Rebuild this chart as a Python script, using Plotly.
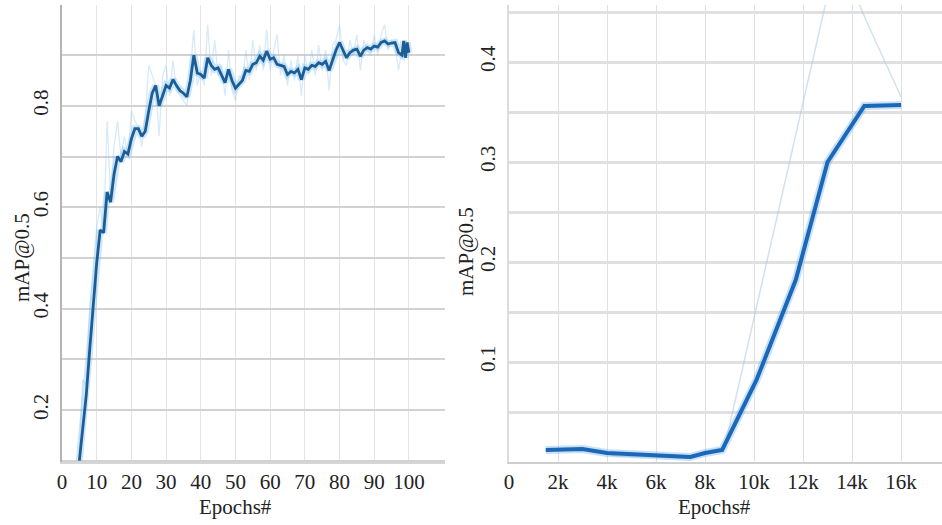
import plotly.graph_objects as go

# ---------------- Left chart data (epochs) ----------------
left_epochs = [5, 6, 7, 8, 9, 10, 11, 12, 13, 14, 15, 16, 17, 18, 19, 20, 21, 22, 23, 24,
               25, 26, 27, 28, 29, 30, 31, 32, 33, 34, 35, 36, 37, 38, 39, 40, 41, 42, 43, 44,
               45, 46, 47, 48, 49, 50, 51, 52, 53, 54, 55, 56, 57, 58, 59, 60, 61, 62, 63, 64,
               65, 66, 67, 68, 69, 70, 71, 72, 73, 74, 75, 76, 77, 78, 79, 80, 81, 82, 83, 84,
               85, 86, 87, 88, 89, 90, 91, 92, 93, 94, 95, 96, 97, 98, 98.5, 99, 99.5, 100]
left_smooth = [0.10, 0.17, 0.23, 0.32, 0.41, 0.49, 0.555, 0.55, 0.63, 0.61, 0.665, 0.70, 0.69, 0.71, 0.705, 0.735, 0.755, 0.755, 0.74, 0.75,
               0.79, 0.825, 0.84, 0.80, 0.82, 0.84, 0.835, 0.852, 0.84, 0.83, 0.825, 0.818, 0.85, 0.90, 0.865, 0.862, 0.855, 0.895, 0.88, 0.872,
               0.875, 0.86, 0.846, 0.872, 0.85, 0.835, 0.843, 0.85, 0.87, 0.868, 0.882, 0.885, 0.898, 0.89, 0.908, 0.892, 0.895, 0.882, 0.88, 0.878,
               0.862, 0.868, 0.865, 0.872, 0.852, 0.875, 0.872, 0.88, 0.878, 0.885, 0.882, 0.888, 0.87, 0.89, 0.91, 0.925, 0.91, 0.895, 0.905, 0.91,
               0.912, 0.898, 0.91, 0.915, 0.912, 0.918, 0.916, 0.925, 0.928, 0.922, 0.924, 0.925, 0.905, 0.90, 0.928, 0.895, 0.925, 0.905]

left_raw_epochs = list(range(5, 101))
left_raw = [0.12, 0.26, 0.25, 0.40, 0.48, 0.56, 0.60, 0.55, 0.77, 0.62, 0.72, 0.77, 0.70, 0.74, 0.70, 0.79, 0.77, 0.76, 0.72, 0.78,
            0.88, 0.86, 0.84, 0.74, 0.86, 0.88, 0.82, 0.89, 0.83, 0.82, 0.81, 0.80, 0.87, 0.95, 0.84, 0.87, 0.84, 0.96, 0.86, 0.93,
            0.86, 0.88, 0.82, 0.91, 0.83, 0.81, 0.86, 0.85, 0.91, 0.85, 0.93, 0.87, 0.92, 0.87, 0.95, 0.87, 0.91, 0.94, 0.86, 0.90,
            0.84, 0.89, 0.85, 0.90, 0.82, 0.90, 0.86, 0.91, 0.86, 0.92, 0.87, 0.91, 0.83, 0.92, 0.93, 0.96, 0.89, 0.88, 0.93, 0.90,
            0.94, 0.87, 0.93, 0.91, 0.90, 0.94, 0.90, 0.94, 0.96, 0.91, 0.93, 0.92, 0.87, 0.91, 0.93, 0.90]

left_xticks = [0, 10, 20, 30, 40, 50, 60, 70, 80, 90, 100]
left_yticks = [0.1, 0.2, 0.3, 0.4, 0.5, 0.6, 0.7, 0.8, 0.9]
left_ylabels = ["", "0.2", "", "0.4", "", "0.6", "", "0.8", ""]

# ---------------- Right chart data (iterations) ----------------
right_steps = [1500, 3000, 4000, 5900, 7400, 8000, 8700, 10100, 11700, 13000, 13500, 14500, 16000]
right_smooth = [0.012, 0.013, 0.009, 0.007, 0.005, 0.009, 0.012, 0.082, 0.182, 0.300, 0.319, 0.356, 0.357]

right_raw_steps = [1500, 3000, 4400, 5900, 7300, 8800, 13400, 14600, 16000]
right_raw = [0.012, 0.013, 0.006, 0.005, 0.004, 0.015, 0.51, 0.44, 0.365]

right_xticks = [0, 2000, 4000, 6000, 8000, 10000, 12000, 14000, 16000]
right_xlabels = ["0", "2k", "4k", "6k", "8k", "10k", "12k", "14k", "16k"]
right_yticks = [0.05, 0.1, 0.15, 0.2, 0.25, 0.3, 0.35, 0.4, 0.45]
right_ylabels = ["", "0.1", "", "0.2", "", "0.3", "", "0.4", ""]

FONT = "Liberation Serif"
TXT = "#222222"

fig = go.Figure()

# left chart traces
fig.add_trace(go.Scatter(x=left_raw_epochs, y=left_raw, mode="lines",
                         line=dict(color="rgba(140,195,240,0.35)", width=1.3),
                         xaxis="x", yaxis="y", showlegend=False, hoverinfo="skip"))
fig.add_trace(go.Scatter(x=left_epochs, y=left_smooth, mode="lines",
                         line=dict(color="rgba(110,185,240,0.35)", width=7),
                         xaxis="x", yaxis="y", showlegend=False, hoverinfo="skip"))
fig.add_trace(go.Scatter(x=left_epochs, y=left_smooth, mode="lines",
                         line=dict(color="#1d5d95", width=2.8),
                         xaxis="x", yaxis="y", showlegend=False))

# right chart traces
fig.add_trace(go.Scatter(x=right_raw_steps, y=right_raw, mode="lines",
                         line=dict(color="rgba(170,200,228,0.55)", width=1.5),
                         xaxis="x2", yaxis="y2", showlegend=False, hoverinfo="skip"))
fig.add_trace(go.Scatter(x=right_steps, y=right_smooth, mode="lines",
                         line=dict(color="rgba(100,170,235,0.35)", width=8),
                         xaxis="x2", yaxis="y2", showlegend=False, hoverinfo="skip"))
fig.add_trace(go.Scatter(x=right_steps, y=right_smooth, mode="lines",
                         line=dict(color="#1b68b8", width=4),
                         xaxis="x2", yaxis="y2", showlegend=False))

W, H = 942, 525
ydom = [1 - 462 / H, 1 - 5 / H]

tickfont = dict(family=FONT, size=21, color=TXT)

fig.update_layout(
    width=W, height=H,
    margin=dict(l=0, r=0, t=0, b=0, autoexpand=False),
    paper_bgcolor="white", plot_bgcolor="white",
    font=dict(family=FONT, size=21, color=TXT),
    xaxis=dict(domain=[62 / W, 445 / W], range=[0, 110.4], tickmode="array",
               tickvals=left_xticks, ticktext=[str(v) for v in left_xticks],
               showgrid=True, gridcolor="#e4e4e4", gridwidth=1.2,
               zeroline=False, showline=True, linecolor="#d6d6d6", linewidth=1.5,
               ticks="", tickfont=tickfont, anchor="y", automargin=False),
    yaxis=dict(domain=ydom, range=[0.0974, 0.999], tickmode="array",
               tickvals=left_yticks, ticktext=left_ylabels, tickangle=-90,
               showgrid=True, gridcolor="#d2d2d2", gridwidth=2,
               zeroline=False, showline=True, linecolor="#b4b4b4", linewidth=2,
               ticks="", tickfont=tickfont, ticklabelstandoff=4, anchor="x", automargin=False),
    xaxis2=dict(domain=[509 / W, 1.0], range=[0, 17670], tickmode="array",
                tickvals=right_xticks, ticktext=right_xlabels,
                showgrid=True, gridcolor="#e0e0e0", gridwidth=1.2,
                zeroline=False, showline=True, linecolor="#cfcfcf", linewidth=1.5,
                ticks="", tickfont=tickfont, anchor="y2", automargin=False),
    yaxis2=dict(domain=ydom, range=[0, 0.457], tickmode="array",
                tickvals=right_yticks, ticktext=right_ylabels, tickangle=-90,
                showgrid=True, gridcolor="#e0e0e0", gridwidth=3,
                zeroline=False, showline=True, linecolor="#dcdcdc", linewidth=1.5,
                ticks="", tickfont=tickfont, ticklabelstandoff=4, anchor="x2", automargin=False),
)

title_font = dict(family=FONT, size=21, color=TXT)
annotations = [
    dict(text="Epochs#", x=235 / W, y=1 - 507 / H, xref="paper", yref="paper",
         showarrow=False, font=title_font, xanchor="center", yanchor="middle"),
    dict(text="Epochs#", x=714 / W, y=1 - 507 / H, xref="paper", yref="paper",
         showarrow=False, font=title_font, xanchor="center", yanchor="middle"),
    dict(text="mAP@0.5", x=22 / W, y=1 - 258 / H, xref="paper", yref="paper",
         showarrow=False, font=title_font, textangle=-90, xanchor="center", yanchor="middle"),
    dict(text="mAP@0.5", x=466 / W, y=1 - 252 / H, xref="paper", yref="paper",
         showarrow=False, font=title_font, textangle=-90, xanchor="center", yanchor="middle"),
]
fig.update_layout(annotations=annotations)

fig.write_html("out.html",
               config={"displayModeBar": False},
               post_script="document.body.style.margin='0';document.body.style.overflow='hidden';")
